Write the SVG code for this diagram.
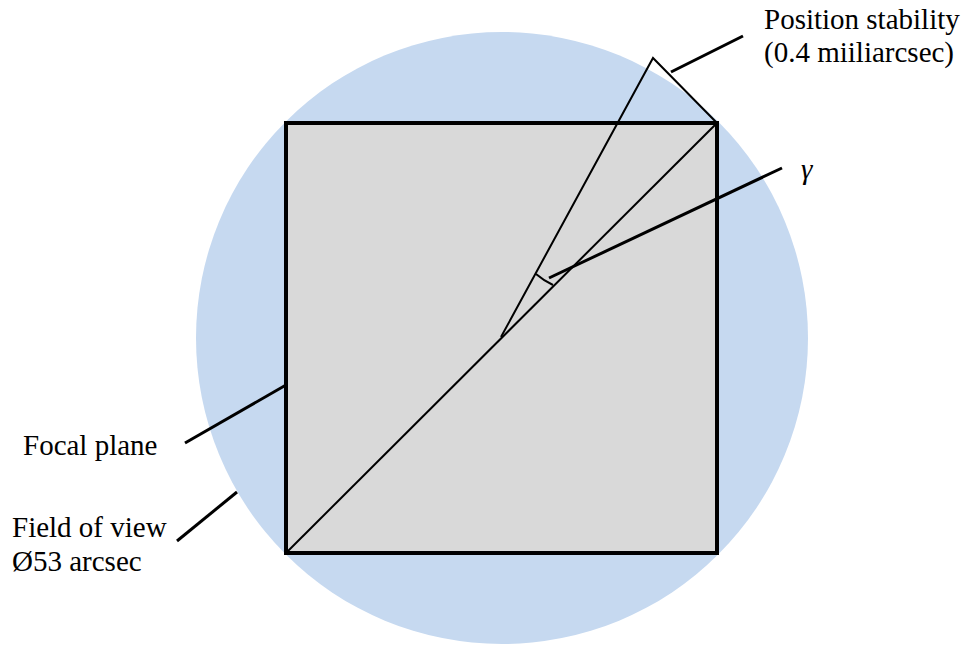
<svg xmlns="http://www.w3.org/2000/svg" width="968" height="646" viewBox="0 0 968 646">
<style>
.lbl{font-family:'Liberation Serif','Times New Roman',Times,'DejaVu Serif',serif;font-size:29px;fill:#000}
.thin{stroke:#000;stroke-width:2;fill:none}
.lead{stroke:#000;stroke-width:3;fill:none}
</style>
<rect width="968" height="646" fill="#fff"/>
<g id="field-of-view">
<circle cx="502" cy="338" r="306" fill="#C6D9F0"/>
</g>
<g id="focal-plane">
<rect x="286" y="123" width="431" height="430" fill="#D9D9D9" stroke="#000" stroke-width="4"/>
</g>
<g id="geometry">
<line class="thin" x1="286" y1="553" x2="717" y2="123"/>
<polyline class="thin" points="501,337 653,58 717,123"/>
<path class="thin" d="M536,274 A74,74 0 0 0 553,285"/>
</g>
<g id="connectors">
<line class="lead" x1="671" y1="72" x2="743" y2="36"/>
<line class="lead" x1="549" y1="278" x2="782" y2="168"/>
<line class="lead" x1="185" y1="443" x2="286" y2="385"/>
<line class="lead" x1="177" y1="541" x2="237" y2="492"/>
</g>
<g id="label-position">
<text class="lbl" x="764" y="29" font-family="Liberation Serif">Position stability</text>
<text class="lbl" x="764" y="62" font-family="Liberation Serif">(0.4 miiliarcsec)</text>
</g>
<g id="label-gamma">
<text class="lbl" x="801" y="179" font-style="italic" font-family="Liberation Serif">γ</text>
</g>
<g id="label-focal">
<text class="lbl" x="23" y="455" font-family="Liberation Serif">Focal plane</text>
</g>
<g id="label-fov">
<text class="lbl" x="12" y="537" font-family="Liberation Serif">Field of view</text>
<text class="lbl" x="12" y="571" font-family="Liberation Serif">Ø53 arcsec</text>
</g>
</svg>
